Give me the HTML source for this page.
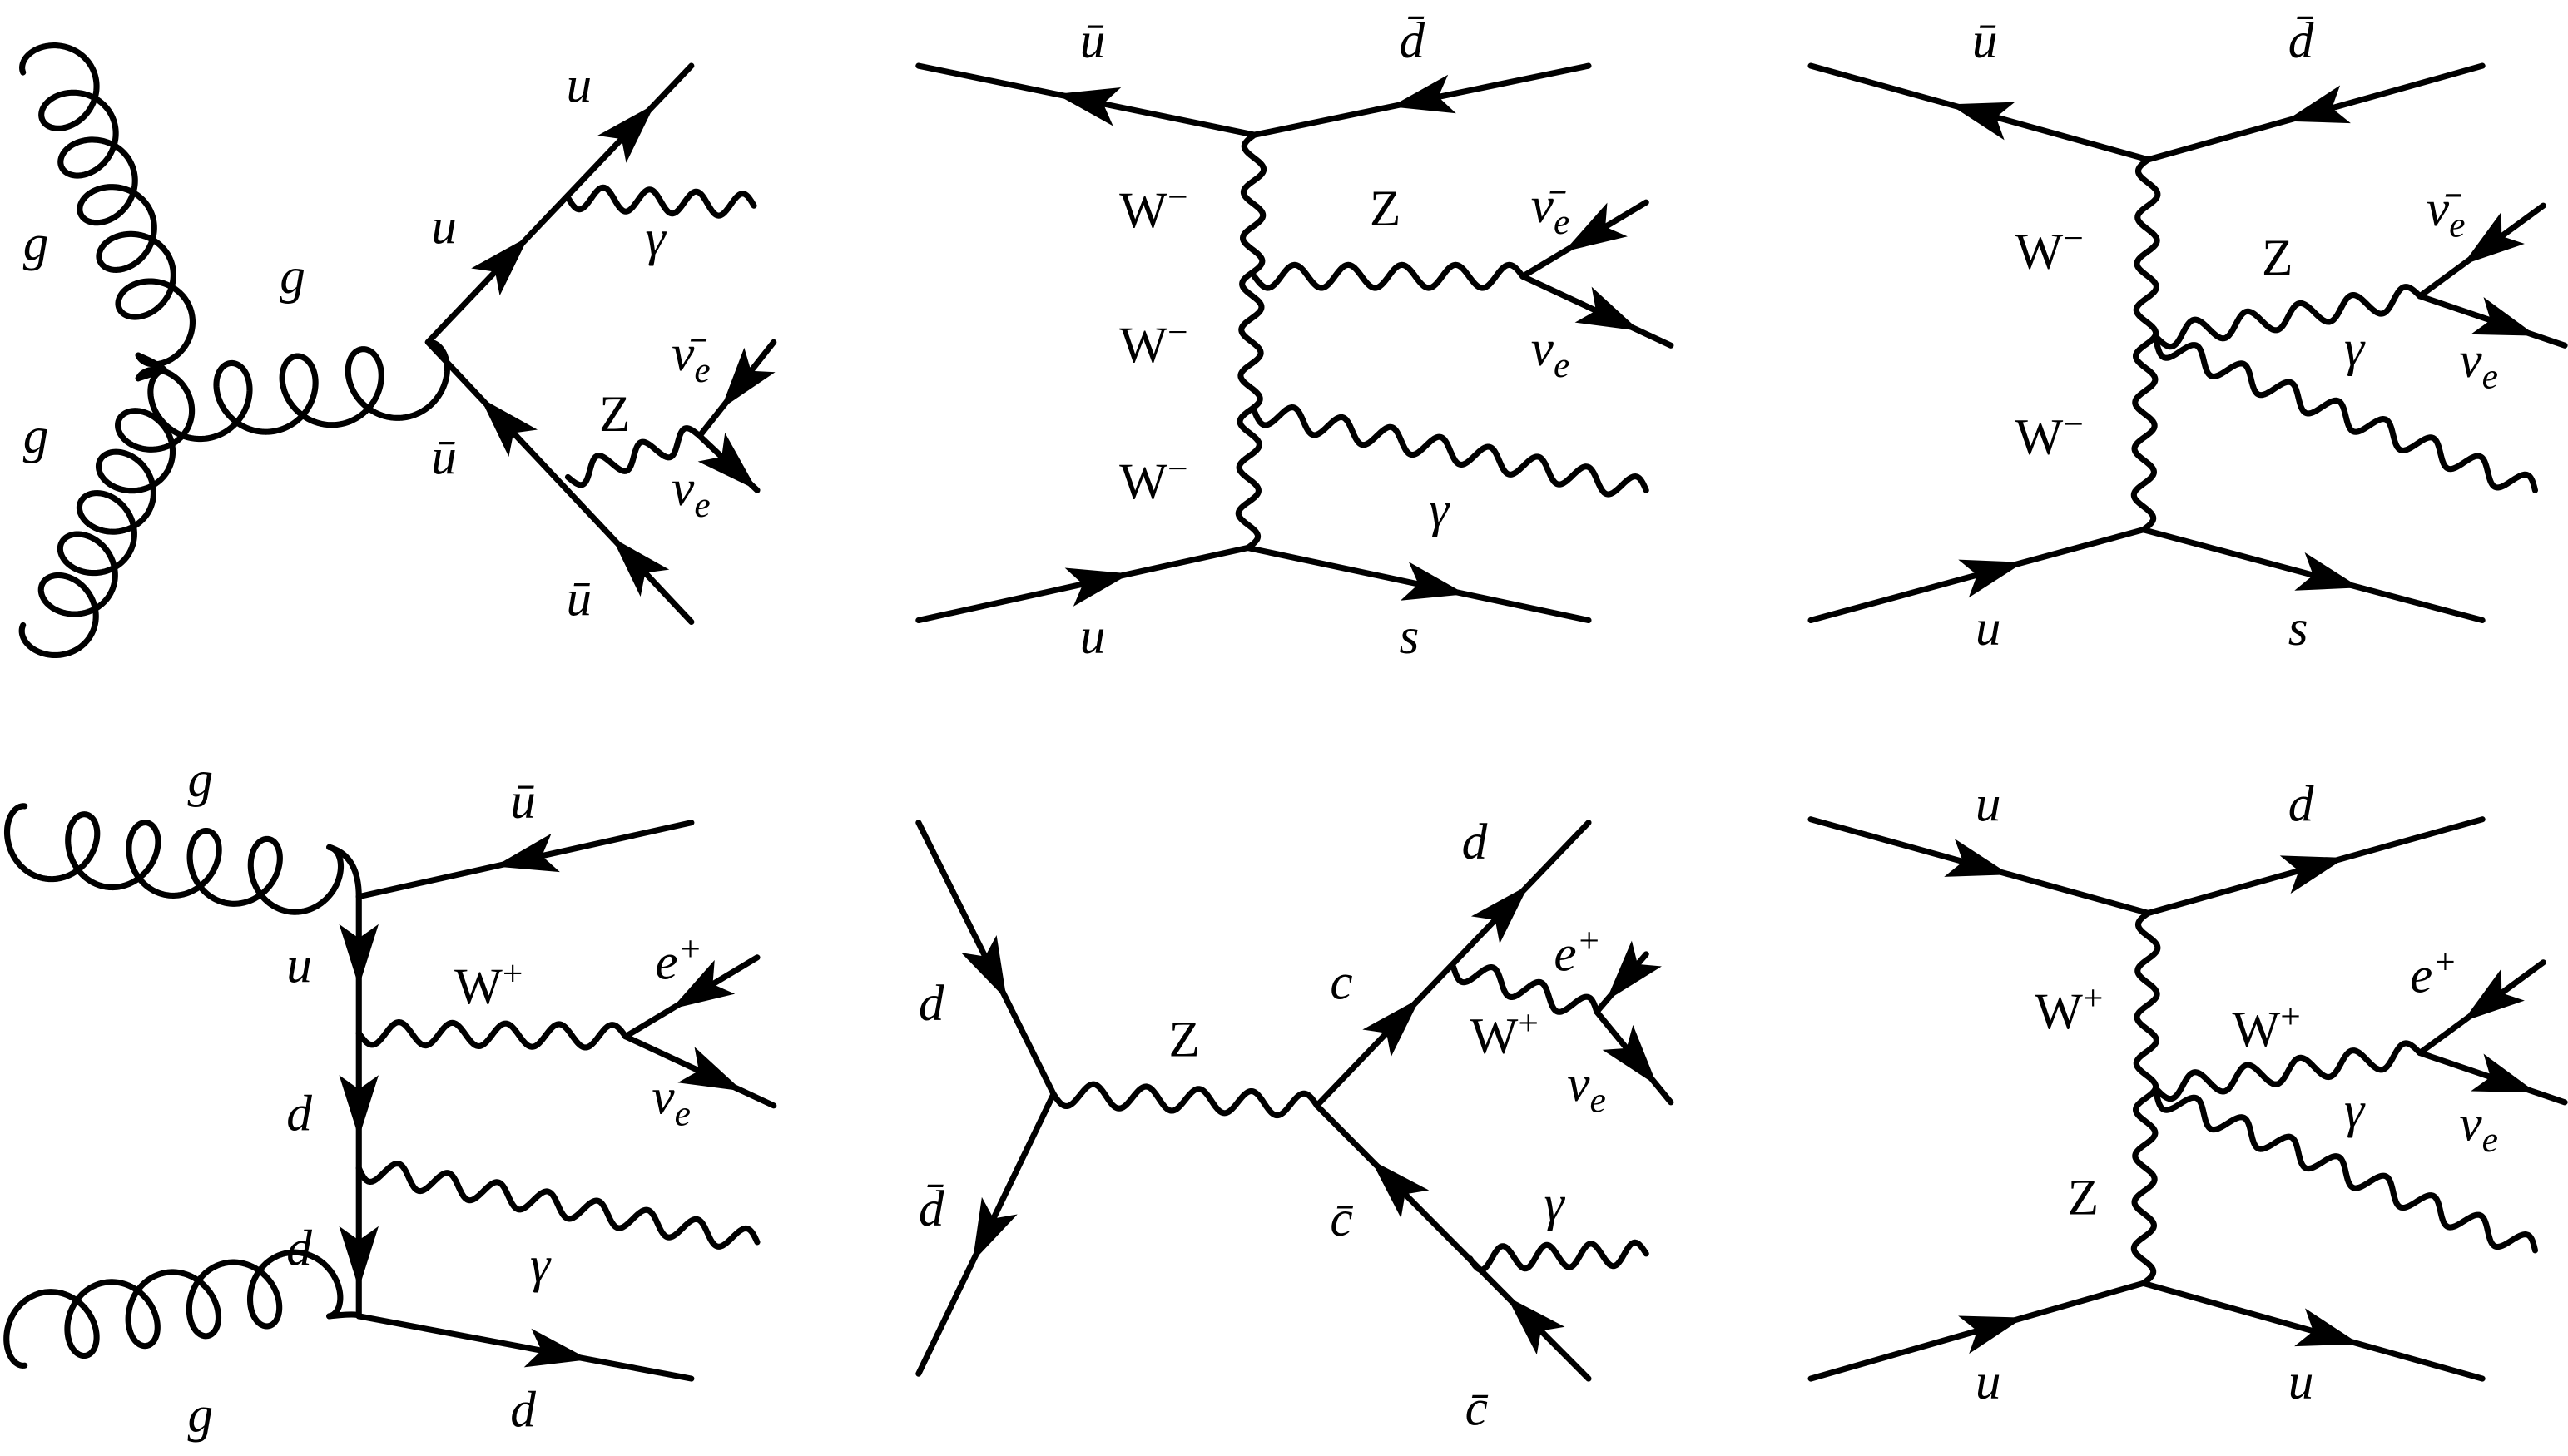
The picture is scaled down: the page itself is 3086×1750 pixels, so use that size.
<!DOCTYPE html>
<html><head><meta charset="utf-8">
<style>
html,body{margin:0;padding:0;background:#fff;}
svg{display:block;}
text{font-family:"Liberation Serif","DejaVu Serif",serif;font-size:31px;fill:#000;}
.i{font-style:italic;}
</style></head>
<body>
<svg id="s" width="3086" height="1750" viewBox="0 0 1560 885" preserveAspectRatio="none" xmlns="http://www.w3.org/2000/svg" font-family="Liberation Serif, serif">
<g id="g" fill="none" stroke="#000" stroke-width="3.6" stroke-linecap="round" stroke-linejoin="round"></g>
<g id="a" fill="#000" stroke="none"></g>
<!-- Panel 1 -->
<text class="i" x="14" y="158">g</text>
<text class="i" x="14" y="275">g</text>
<text class="i" x="170" y="178">g</text>
<text class="i" x="262" y="148">u</text>
<text class="i" x="344" y="62">u</text>
<text class="i" x="392" y="155">γ</text>
<text class="i" x="262" y="288">ū</text>
<text class="i" x="344" y="374">ū</text>
<text x="364" y="262">Z</text>
<text class="i" x="408" y="225">ν̄<tspan font-size="22" dy="7">e</tspan></text>
<text class="i" x="408" y="307">ν<tspan font-size="22" dy="7">e</tspan></text>
<!-- Panel 2 -->
<text class="i" x="656" y="35">ū</text>
<text class="i" x="850" y="35">d̄</text>
<text x="680" y="138">W<tspan font-size="22" dy="-11">−</tspan></text>
<text x="680" y="220">W<tspan font-size="22" dy="-11">−</tspan></text>
<text x="680" y="303">W<tspan font-size="22" dy="-11">−</tspan></text>
<text x="832" y="137">Z</text>
<text class="i" x="930" y="135">ν̄<tspan font-size="22" dy="7">e</tspan></text>
<text class="i" x="930" y="222">ν<tspan font-size="22" dy="7">e</tspan></text>
<text class="i" x="868" y="320">γ</text>
<text class="i" x="656" y="397">u</text>
<text class="i" x="850" y="397">s</text>
<!-- Panel 3 -->
<text class="i" x="1198" y="35">ū</text>
<text class="i" x="1390" y="35">d̄</text>
<text x="1224" y="163">W<tspan font-size="22" dy="-11">−</tspan></text>
<text x="1224" y="276">W<tspan font-size="22" dy="-11">−</tspan></text>
<text x="1374" y="167">Z</text>
<text class="i" x="1474" y="137">ν̄<tspan font-size="22" dy="7">e</tspan></text>
<text class="i" x="1494" y="229">ν<tspan font-size="22" dy="7">e</tspan></text>
<text class="i" x="1424" y="222">γ</text>
<text class="i" x="1200" y="392">u</text>
<text class="i" x="1390" y="392">s</text>
<!-- Panel 4 -->
<text class="i" x="114" y="484">g</text>
<text class="i" x="310" y="497">ū</text>
<text class="i" x="174" y="597">u</text>
<text class="i" x="174" y="687">d</text>
<text class="i" x="174" y="769">d</text>
<text x="276" y="610">W<tspan font-size="22" dy="-11">+</tspan></text>
<text class="i" x="398" y="595">e<tspan font-size="22" dy="-11">+</tspan></text>
<text class="i" x="396" y="677">ν<tspan font-size="22" dy="7">e</tspan></text>
<text class="i" x="322" y="779">γ</text>
<text class="i" x="114" y="870">g</text>
<text class="i" x="310" y="867">d</text>
<!-- Panel 5 -->
<text class="i" x="558" y="620">d</text>
<text class="i" x="558" y="745">d̄</text>
<text x="710" y="642">Z</text>
<text class="i" x="808" y="607">c</text>
<text class="i" x="888" y="522">d</text>
<text x="893" y="640">W<tspan font-size="22" dy="-11">+</tspan></text>
<text class="i" x="944" y="590">e<tspan font-size="22" dy="-11">+</tspan></text>
<text class="i" x="952" y="669">ν<tspan font-size="22" dy="7">e</tspan></text>
<text class="i" x="808" y="751">c̄</text>
<text class="i" x="938" y="742">γ</text>
<text class="i" x="890" y="866">c̄</text>
<!-- Panel 6 -->
<text class="i" x="1200" y="499">u</text>
<text class="i" x="1390" y="499">d</text>
<text x="1236" y="625">W<tspan font-size="22" dy="-11">+</tspan></text>
<text x="1256" y="738">Z</text>
<text x="1356" y="636">W<tspan font-size="22" dy="-11">+</tspan></text>
<text class="i" x="1464" y="603">e<tspan font-size="22" dy="-11">+</tspan></text>
<text class="i" x="1424" y="685">γ</text>
<text class="i" x="1494" y="693">ν<tspan font-size="22" dy="7">e</tspan></text>
<text class="i" x="1200" y="850">u</text>
<text class="i" x="1390" y="850">u</text>
</svg>
<script>
var G=document.getElementById('g'),A=document.getElementById('a'),NS="http://www.w3.org/2000/svg";
function path(d){var p=document.createElementNS(NS,'path');p.setAttribute('d',d);G.appendChild(p);}
function arrow(cx,cy,ux,uy){var L=19,W=12;var nx=-uy,ny=ux;
var p=document.createElementNS(NS,'polygon');
p.setAttribute('points',[(cx+ux*L)+','+(cy+uy*L),(cx-ux*L+nx*W)+','+(cy-uy*L+ny*W),(cx-ux*L*0.55)+','+(cy-uy*L*0.55),(cx-ux*L-nx*W)+','+(cy-uy*L-ny*W)].join(' '));A.appendChild(p);}
function F(x1,y1,x2,y2,ts){path('M'+x1+','+y1+'L'+x2+','+y2);var dx=x2-x1,dy=y2-y1,l=Math.hypot(dx,dy),ux=dx/l,uy=dy/l;
(ts||[]).forEach(function(t){arrow(x1+dx*t,y1+dy*t,ux,uy);});}
function P(x1,y1,x2,y2,amp,lam,sg){amp=amp||7;lam=lam||30;sg=sg||1;var dx=x2-x1,dy=y2-y1,l=Math.hypot(dx,dy),ux=dx/l,uy=dy/l,nx=-uy*sg,ny=ux*sg;
var n=Math.max(1,Math.round(l/lam));var d='';var N=Math.ceil(l*1.5);
for(var i=0;i<=N;i++){var s=i/N;var o=amp*Math.sin(2*Math.PI*n*s);var x=x1+dx*s+nx*o,y=y1+dy*s+ny*o;d+=(i?'L':'M')+x.toFixed(2)+','+y.toFixed(2);}path(d);}
function Gl(x1,y1,x2,y2,n,a,b,sg){var dx=x2-x1,dy=y2-y1,l=Math.hypot(dx,dy),ux=dx/l,uy=dy/l,nx=-uy*sg,ny=ux*sg;var d='';var N=800;
for(var i=0;i<=N;i++){var s=i/N,th=2*Math.PI*n*s;var al=s*l-a*Math.sin(th),pe=b*(1-Math.cos(th));
var x=x1+ux*al+nx*pe,y=y1+uy*al+ny*pe;d+=(i?'L':'M')+x.toFixed(2)+','+y.toFixed(2);}path(d);}
// Panel 1
Gl(84,216,14,44,6,17,20,1);
Gl(84,230,14,380,6,17,20,-1);
path('M84,216 Q98,222 100,225 M84,230 Q96,226 100,225');
Gl(100,225,260,208,4,19,22,1);
F(260,208,420,40,[0.3,0.78]);
F(420,378,260,208,[0.22,0.72]);
P(345,120,458,125,7,30,1);
P(345,290,425,265,7,28,1);
F(470,208,425,265,[0.45]);
F(425,265,460,298,[0.6]);
// Panel 2
F(762,82,558,40,[0.5]);
F(965,40,762,82,[0.5]);
P(762,82,758,333,6,28,1);
P(762,168,925,168,7,30,1);
F(1000,123,925,168,[0.45]);
F(925,168,1015,210,[0.6]);
P(762,250,1000,298,7,30,1);
F(558,377,758,333,[0.55]);
F(758,333,965,377,[0.55]);
// Panel 3
F(1305,97,1100,40,[0.5]);
F(1508,40,1305,97,[0.5]);
P(1305,97,1302,322,6,28,1);
P(1310,205,1470,180,7,30,1);
F(1545,125,1470,180,[0.45]);
F(1470,180,1558,210,[0.6]);
P(1310,208,1540,298,7,30,1);
F(1100,377,1302,322,[0.55]);
F(1302,322,1508,377,[0.55]);
// Panel 4
Gl(15,490,200,515,5,17,21,1);
path('M200,515 Q218,520 218,545');
F(420,500,218,545,[0.5]);
F(218,545,218,800,[0.14,0.5,0.86]);
P(218,628,380,630,7,30,1);
F(460,582,380,630,[0.45]);
F(380,630,470,672,[0.6]);
P(218,710,460,755,7,30,1);
Gl(200,800,15,830,5,17,21,1);
path('M200,800 Q218,798 218,800');
F(218,800,420,838,[0.6]);
// Panel 5
F(558,500,640,665,[0.55]);
F(640,665,558,835,[0.5]);
P(640,665,800,672,7,30,1);
F(800,672,965,500,[0.3,0.7]);
F(965,838,800,672,[0.22,0.72]);
P(883,588,970,615,7,28,1);
F(1000,580,970,615,[0.4]);
F(970,615,1015,670,[0.55]);
P(893,765,1000,762,7,30,1);
// Panel 6
F(1100,498,1305,555,[0.5]);
F(1305,555,1508,498,[0.5]);
P(1305,555,1302,780,6,28,1);
P(1310,662,1470,640,7,30,1);
F(1545,585,1470,640,[0.45]);
F(1470,640,1558,670,[0.6]);
P(1310,665,1540,760,7,30,1);
F(1100,838,1302,780,[0.55]);
F(1302,780,1508,838,[0.55]);
</script>
</body></html>
